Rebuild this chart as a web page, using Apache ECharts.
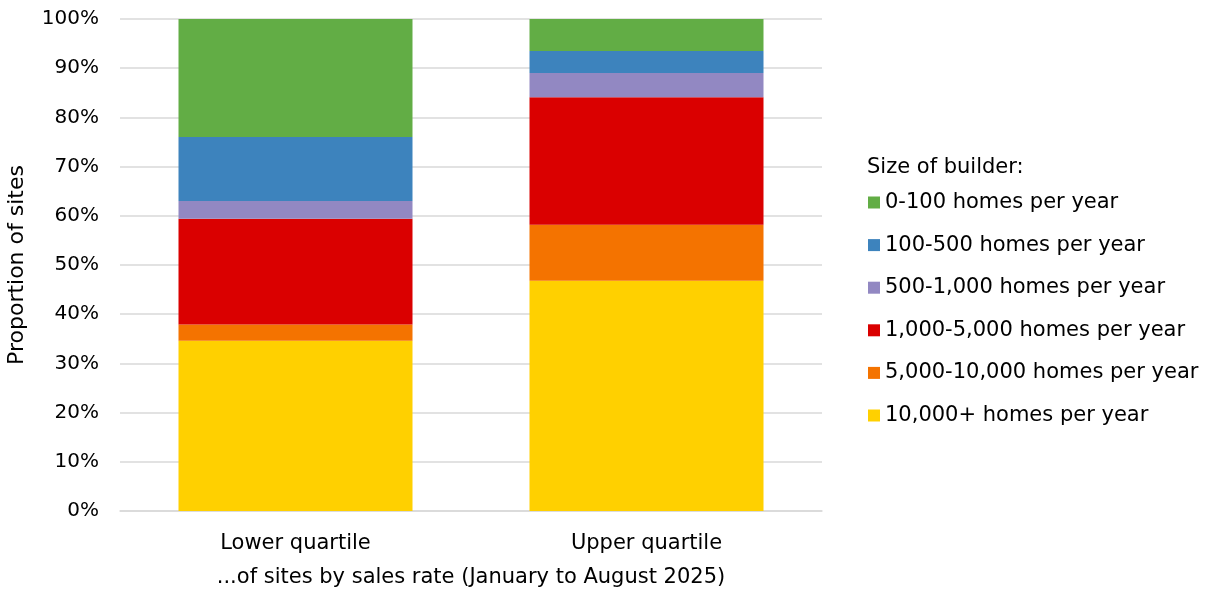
<!DOCTYPE html>
<html>
<head>
<meta charset="utf-8">
<script src="https://cdn.jsdelivr.net/npm/echarts@6/dist/echarts.min.js"></script>
<style>
html,body{margin:0;padding:0;background:#fff;}
#chart{width:1205px;height:590px;}
</style>
</head>
<body>
<div id="chart"></div>
<script>
const categories = ['Lower quartile', 'Upper quartile'];
const yTicks = [0, 10, 20, 30, 40, 50, 60, 70, 80, 90, 100];
const seriesNames = [
  '10,000+ homes per year',
  '5,000-10,000 homes per year',
  '1,000-5,000 homes per year',
  '500-1,000 homes per year',
  '100-500 homes per year',
  '0-100 homes per year'
];
const v10000plus = [34.6, 46.8];
const v5000to10000 = [3.3, 11.4];
const v1000to5000 = [21.5, 25.9];
const v500to1000 = [3.6, 4.9];
const v100to500 = [13.0, 4.5];
const v0to100 = [24.0, 6.5];
const seriesValues = [v10000plus, v5000to10000, v1000to5000, v500to1000, v100to500, v0to100];
const colors = ['#FFD000', '#F47300', '#DA0000', '#9288C2', '#3D83BD', '#62AD45'];
const legendTitle = 'Size of builder:';
const xTitle = '...of sites by sales rate (January to August 2025)';
const yTitle = 'Proportion of sites';

const FONT = 'DejaVu Sans';
const chart = echarts.init(document.getElementById('chart'), null, {renderer: 'canvas'});
chart.setOption({
  animation: false,
  backgroundColor: '#fff',
  textStyle: {fontFamily: FONT},
  title: {
    text: legendTitle,
    left: 862, top: 152,
    textStyle: {fontFamily: FONT, fontSize: 21, fontWeight: 'normal', color: '#000'}
  },
  legend: {
    orient: 'vertical',
    left: 863, top: 187,
    itemWidth: 12, itemHeight: 12,
    itemGap: 21.6,
    icon: 'rect',
    data: seriesNames.slice().reverse(),
    textStyle: {fontFamily: FONT, fontSize: 21, color: '#000', padding: [0, 0, 0, 0]}
  },
  grid: {left: 120, right: 383, top: 19, bottom: 79, containLabel: false, outerBoundsMode: 'none'},
  xAxis: {
    type: 'category',
    data: categories,
    name: xTitle,
    nameLocation: 'middle',
    nameGap: 56,
    nameTextStyle: {fontFamily: FONT, fontSize: 21, color: '#000'},
    axisLine: {show: true, lineStyle: {color: '#D9D9D9', width: 1.5}},
    axisTick: {show: false},
    axisLabel: {fontFamily: FONT, fontSize: 21, color: '#000', margin: 22}
  },
  yAxis: {
    type: 'value',
    min: yTicks[0], max: yTicks[yTicks.length - 1], interval: 10,
    name: yTitle,
    nameLocation: 'middle',
    nameGap: 92,
    nameTextStyle: {fontFamily: FONT, fontSize: 22, color: '#000'},
    axisLine: {show: false},
    axisTick: {show: false},
    axisLabel: {fontFamily: FONT, fontSize: 20, color: '#000', margin: 21, formatter: '{value}%'},
    splitLine: {show: true, lineStyle: {color: '#D9D9D9', width: 1.5}}
  },
  series: seriesNames.map((n, i) => ({
    name: n,
    type: 'bar',
    stack: 'total',
    barWidth: 234,
    itemStyle: {color: colors[i]},
    data: seriesValues[i]
  }))
});
</script>
</body>
</html>
